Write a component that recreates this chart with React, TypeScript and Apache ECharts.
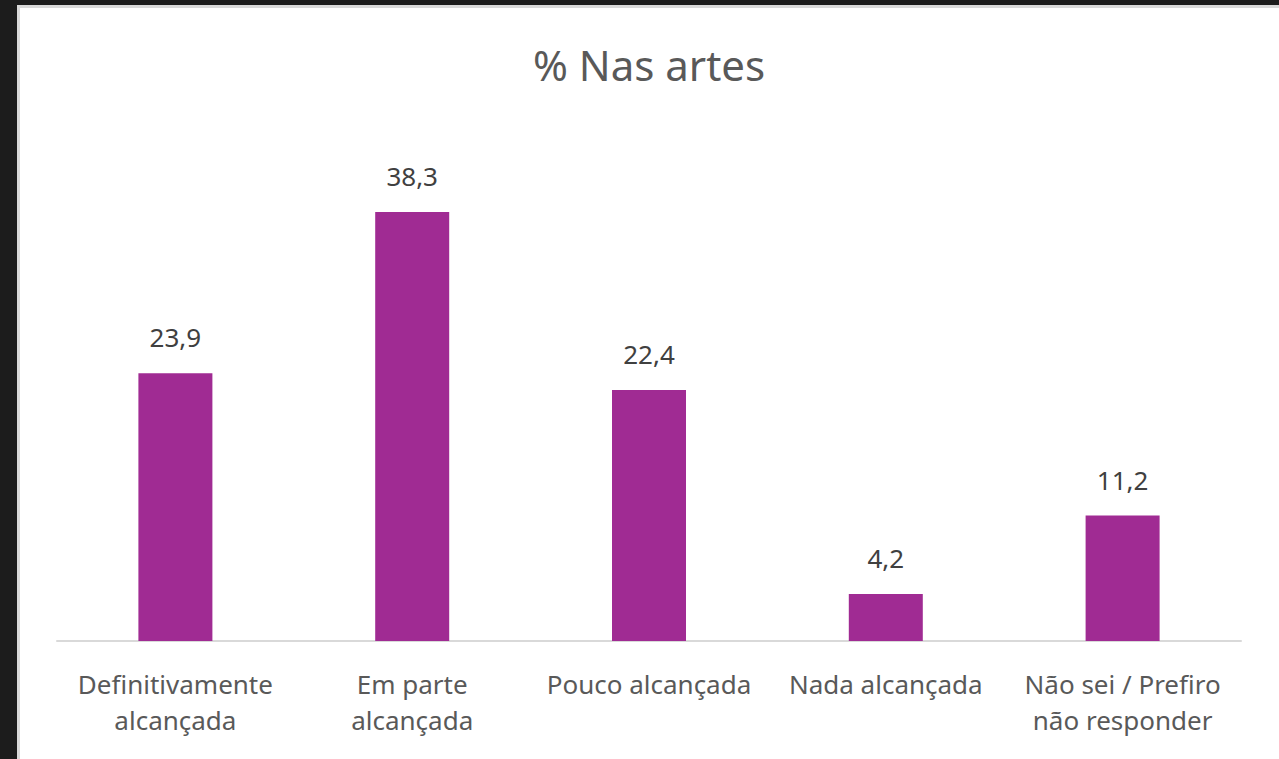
import React, { useEffect, useRef } from "react";
import * as echarts from "echarts";

const categories = [
  "Definitivamente\nalcançada",
  "Em parte\nalcançada",
  "Pouco alcançada",
  "Nada alcançada",
  "Não sei / Prefiro\nnão responder",
];
const values = [23.9, 38.3, 22.4, 4.2, 11.2];
const title = "% Nas artes";

export default function App() {
  const ref = useRef<HTMLDivElement>(null);
  useEffect(() => {
    if (!ref.current) return;
    const chart = echarts.init(ref.current, null, { renderer: "svg" });
    const font = "'Noto Sans', sans-serif";
    chart.setOption({
      animation: false,
      backgroundColor: "#1c1c1c",
      graphic: [
        { type: "rect", shape: { x: 17, y: 5, width: 1262, height: 754 }, style: { fill: "#d9d9d9" }, z: -10 },
        { type: "rect", shape: { x: 20, y: 8, width: 1259, height: 751 }, style: { fill: "#ffffff" }, z: -9 },
      ],
      title: {
        text: title,
        left: 644,
        textAlign: "center",
        top: 38,
        textStyle: { fontFamily: font, fontSize: 42, fontWeight: "normal", color: "#595959" },
      },
      grid: { left: 57, right: 38, top: 81, bottom: 118 },
      xAxis: {
        type: "category",
        data: categories,
        axisLine: { show: true, lineStyle: { color: "#d9d9d9", width: 2 } },
        axisTick: { show: false },
        axisLabel: {
          interval: 0,
          margin: 25,
          fontFamily: font,
          fontSize: 26,
          lineHeight: 36,
          color: "#595959",
        },
      },
      yAxis: {
        type: "value",
        min: 0,
        max: 50,
        show: false,
        splitLine: { show: false },
      },
      series: [
        {
          type: "bar",
          data: values,
          barWidth: 74,
          itemStyle: { color: "#a02b93" },
          label: {
            show: true,
            position: "top",
            distance: 23,
            fontFamily: font,
            fontSize: 26,
            color: "#404040",
            formatter: (p: any) => String(p.value).replace(".", ","),
          },
        },
      ],
    });
    return () => chart.dispose();
  }, []);
  return (
    <div
      ref={ref}
      style={{ position: "fixed", left: 0, top: 0, width: 1279, height: 759 }}
    />
  );
}
